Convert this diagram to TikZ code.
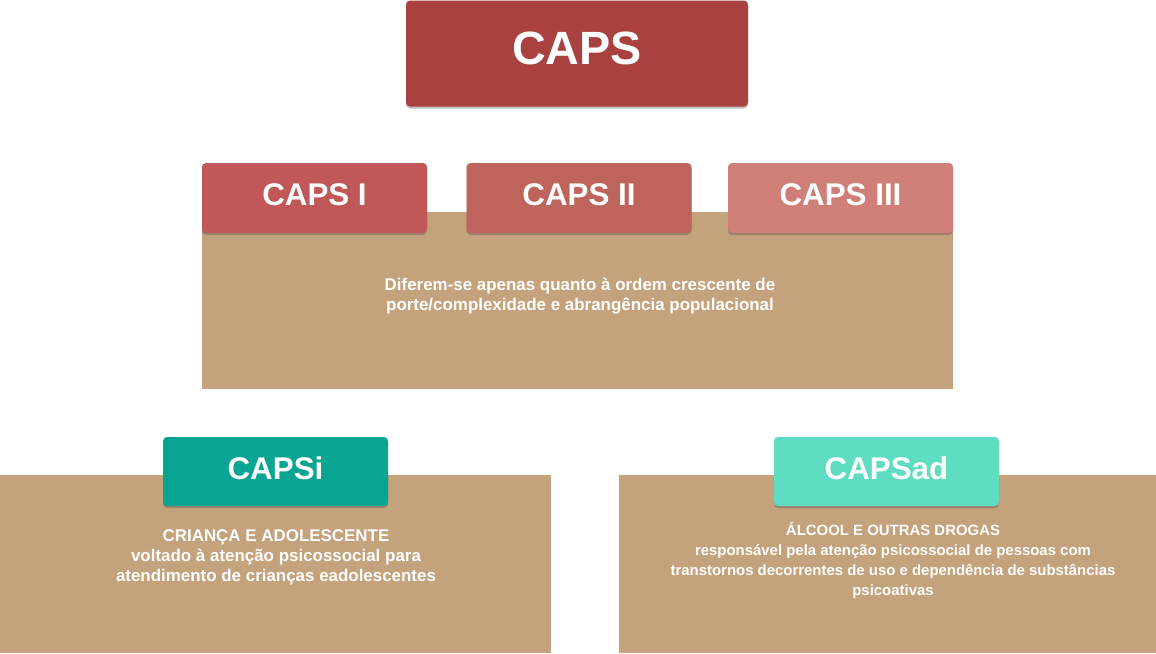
\documentclass[tikz,border=0pt]{standalone}
\usepackage{fontspec}
\setmainfont{Liberation Sans}
\usetikzlibrary{shadows}

\definecolor{capsred}{HTML}{A84140}
\definecolor{capsone}{HTML}{C0585A}
\definecolor{capstwo}{HTML}{BE645C}
\definecolor{capsthree}{HTML}{CF7F77}
\definecolor{tan}{HTML}{C4A27C}
\definecolor{capsi}{HTML}{0AA592}
\definecolor{capsad}{HTML}{5EDDC0}

\begin{document}
\begin{tikzpicture}[x=0.75pt, y=-0.75pt,
		box/.style={rounded corners=3pt, text=white, font=\bfseries\fontsize{23.5pt}{28pt}\selectfont,
			minimum width=168.75pt, minimum height=52.5pt, inner sep=0pt,
			text height=17pt, text depth=5.5pt,
			drop shadow={shadow xshift=0pt, shadow yshift=-1.5pt, opacity=0.35, fill=black!70}},
		desc/.style={align=center, text=white, font=\bfseries\fontsize{12.7pt}{15pt}\selectfont}]
		% \draw [help lines, step=50] (0,0) grid (1156,653);
		\useasboundingbox (0,0) rectangle (1156,653);

		\fill [tan] (202,212) rectangle (953,389);
		\fill [tan] (0,475) rectangle (551,653);
		\fill [tan] (619,475) rectangle (1156,653);

		\node [box, fill=capsred, minimum width=256.5pt, minimum height=79.5pt,
			text height=25pt, text depth=9pt,
			font=\bfseries\fontsize{35pt}{40pt}\selectfont] (caps) at (577,53.5) {CAPS};

		\node [box, fill=capsone] (capsI) at (314.5,198) {CAPS I};
		\node [box, fill=capstwo] (capsII) at (579,198) {CAPS II};
		\node [box, fill=capsthree] (capsIII) at (840.5,198) {CAPS III};

		\node [desc] (porte) at (580,296) {Diferem-se apenas quanto à ordem crescente de\\porte/complexidade e abrangência populacional};

		\node [box, fill=capsi, minimum height=51.75pt, text depth=4.5pt] (capsi) at (275.5,471.5) {CAPSi};
		\node [box, fill=capsad, minimum height=51.75pt, text depth=4.5pt] (capsad) at (886.5,471.5) {CAPSad};

		\node [desc] (infantil) at (276,557) {CRIANÇA E ADOLESCENTE\\voltado à atenção psicossocial para\\atendimento de crianças eadolescentes};
		\node [desc, font=\bfseries\fontsize{11.2pt}{15pt}\selectfont] (drogas) at (893,560) {ÁLCOOL E OUTRAS DROGAS\\responsável pela atenção psicossocial de pessoas com\\transtornos decorrentes de uso e dependência de substâncias\\psicoativas};
	\end{tikzpicture}
\end{document}
